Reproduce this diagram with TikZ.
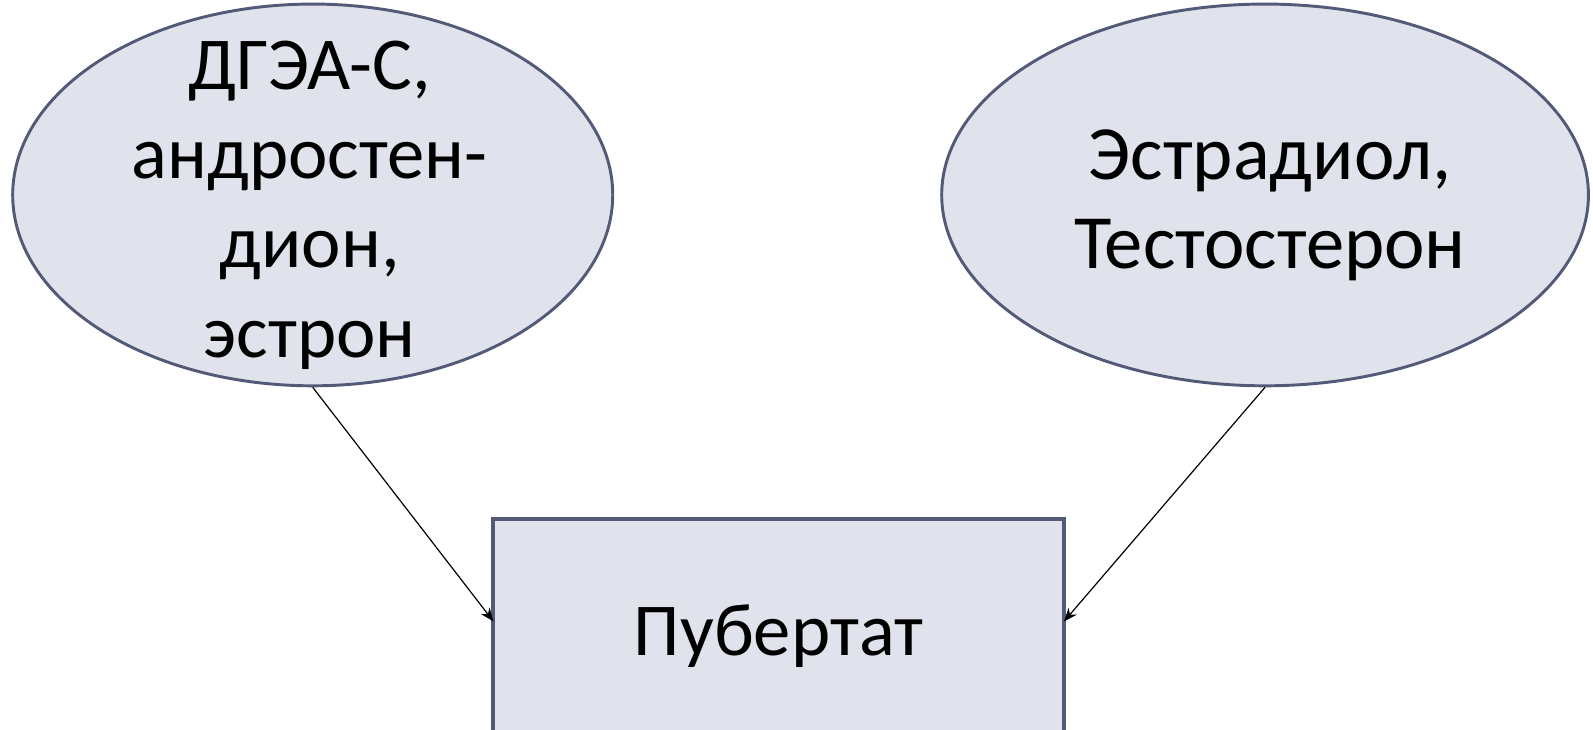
\documentclass[tikz,border=0pt]{standalone}
\usepackage{fontspec}
\setmainfont{Carlito}
\usetikzlibrary{shapes.geometric,arrows.meta}
\definecolor{fillc}{HTML}{E1E3EC}
\definecolor{edgec}{HTML}{535A78}
\begin{document}
\begin{tikzpicture}[x=0.7614pt,y=-0.7614pt,
  bubble/.style={ellipse,draw=edgec,fill=fillc,line width=2.2pt,inner sep=0pt},
  btext/.style={align=center,font=\fontsize{56}{67}\selectfont},
  boxnode/.style={rectangle,draw=edgec,fill=fillc,line width=3pt,inner sep=0pt},
  conn/.style={-{Stealth[length=10pt,width=8pt]},line width=0.9pt,black}]
\useasboundingbox (0,0) rectangle (1569,719);
\node[bubble,minimum width=591*0.7614pt,minimum height=376*0.7614pt] (l) at (308,192) {};
\node[btext] (lt) at (305,202) {ДГЭА-С,\\андростен-\\дион,\\эстрон};
\node[bubble,minimum width=637*0.7614pt,minimum height=376*0.7614pt] (r) at (1246,192) {};
\node[btext,font=\fontsize{57.5}{67}\selectfont] (rt) at (1251,202) {Эстрадиол,\\Тестостерон};
\node[boxnode,minimum width=562*0.7614pt,minimum height=230*0.7614pt] (p) at (767,626) {};
\node[font=\fontsize{56}{65}\selectfont] (pt) at (767,627) {Пубертат};
\coordinate (pl) at (486,612);
\coordinate (pr) at (1048,612);
\draw[conn] (l.south) -- (pl);
\draw[conn] (r.south) -- (pr);
\end{tikzpicture}
\end{document}
